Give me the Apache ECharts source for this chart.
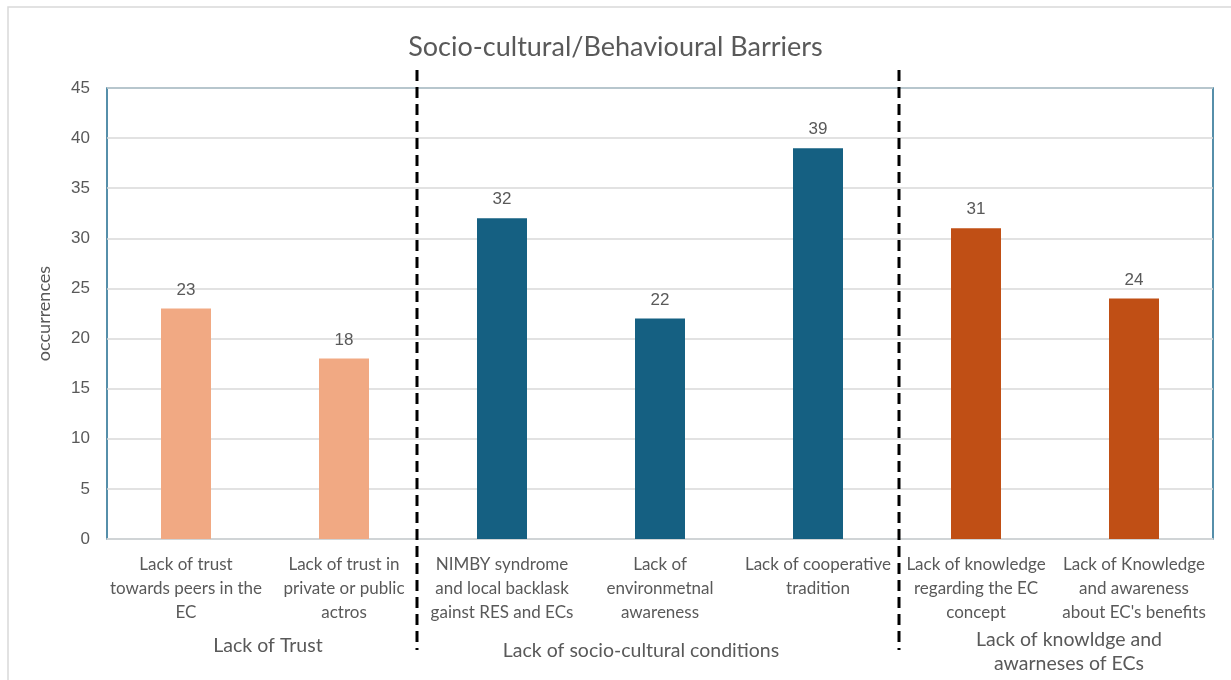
<!DOCTYPE html>
<html>
<head>
<meta charset="utf-8">
<script src="https://cdn.jsdelivr.net/npm/echarts@6/dist/echarts.min.js"></script>
<style>
  html, body { margin: 0; padding: 0; background: #fff; }
  #chart { width: 1231px; height: 680px; }
</style>
</head>
<body>
<div id="chart"></div>
<script>
const categories = [
  'Lack of trust\ntowards peers in the\nEC',
  'Lack of trust in\nprivate or public\nactros',
  'NIMBY syndrome\nand local backlask\ngainst RES and ECs',
  'Lack of\nenvironmetnal\nawareness',
  'Lack of cooperative\ntradition',
  'Lack of knowledge\nregarding the EC\nconcept',
  'Lack of Knowledge\nand awareness\nabout EC\'s benefits'
]
const values = [23, 18, 32, 22, 39, 31, 24]
// which group each bar belongs to
const groupOf = [0, 0, 1, 1, 1, 2, 2]
const groupNames = ['Lack of Trust', 'Lack of socio-cultural conditions', 'Lack of knowldge and\nawarneses of ECs']
const groupColors = ['#F1A983', '#156082', '#C04F15']
const yTicks = { min: 0, max: 45, interval: 5 }

const chart = echarts.init(document.getElementById('chart'))
const textGray = '#595959'

// dashed separators between groups
const separators = [417, 899]
const groupLabelPos = [[268, 646], [641, 651], [1069, 652]]

const graphics = [
  { type: 'rect', shape: { x: 8, y: 7, width: 1240, height: 700 },
    style: { fill: 'none', stroke: '#d9d9d9', lineWidth: 1.5 }, z: 0 }
]
separators.forEach(x => {
  graphics.push({ type: 'line', shape: { x1: x, y1: 70, x2: x, y2: 650 },
    style: { stroke: '#000', lineWidth: 3, lineDash: [11, 6] }, z: 10 })
})
groupNames.forEach((name, i) => {
  graphics.push({ type: 'text', x: groupLabelPos[i][0], y: groupLabelPos[i][1],
    style: { text: name, fill: textGray, font: '19.5px Lato, sans-serif',
      align: 'center', verticalAlign: 'middle', lineHeight: 24 } })
})

chart.setOption({
  animation: false,
  title: {
    text: 'Socio-cultural/Behavioural Barriers',
    left: 'center', top: 29,
    textStyle: { color: textGray, fontSize: 27, fontWeight: 'normal', fontFamily: 'Lato, sans-serif' }
  },
  grid: {
    left: 107, right: 18, top: 88, bottom: 141,
    show: true, borderColor: '#1F6B8E', borderWidth: 1.5, backgroundColor: 'transparent'
  },
  xAxis: {
    type: 'category',
    data: categories,
    axisTick: { show: false },
    axisLine: { lineStyle: { color: '#d9d9d9', width: 1.5 } },
    axisLabel: {
      interval: 0, color: textGray, fontSize: 17, lineHeight: 24, margin: 14,
      fontFamily: 'Lato, sans-serif'
    }
  },
  yAxis: {
    type: 'value',
    min: yTicks.min, max: yTicks.max, interval: yTicks.interval,
    name: 'occurrences', nameLocation: 'middle', nameGap: 54,
    nameTextStyle: { color: textGray, fontSize: 18, fontFamily: 'Lato, sans-serif' },
    axisLine: { show: false },
    axisTick: { show: false },
    axisLabel: { color: textGray, fontSize: 17, margin: 17, fontFamily: 'Liberation Sans, Arial, sans-serif' },
    splitLine: { lineStyle: { color: '#d9d9d9', width: 1.5 } }
  },
  series: [{
    type: 'bar',
    barWidth: 50,
    data: values.map((v, i) => ({ value: v, itemStyle: { color: groupColors[groupOf[i]] } })),
    label: {
      show: true, position: 'top', distance: 10, color: textGray, fontSize: 17,
      fontFamily: 'Liberation Sans, Arial, sans-serif'
    }
  }],
  graphic: graphics
})
</script>
</body>
</html>
